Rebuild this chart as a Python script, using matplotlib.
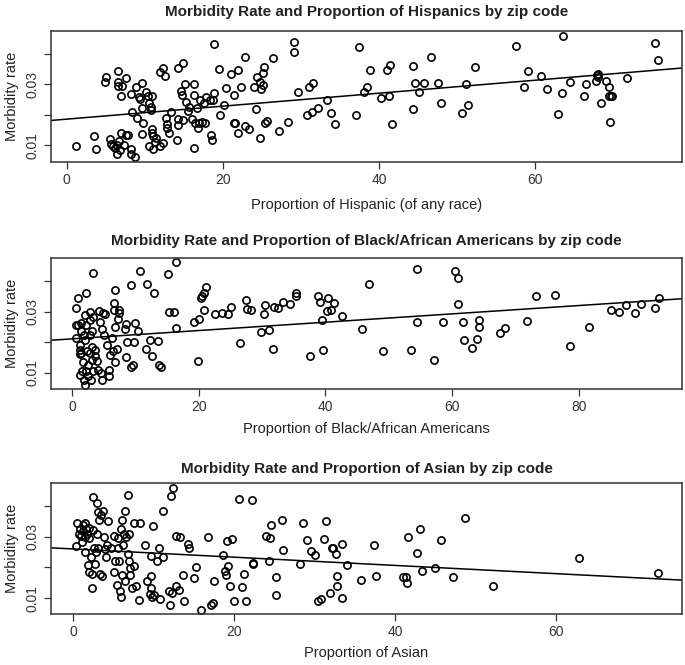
import matplotlib
matplotlib.use("Agg")
import matplotlib.pyplot as plt
import numpy as np

# ---------------- data ----------------
hisp_x = [1.2, 3.5, 3.7, 4.9, 5.1, 5.5, 5.7, 6.0, 6.2, 6.4, 6.5, 6.6, 6.6, 6.6, 6.7, 6.8, 7.0, 7.0, 7.1, 7.4,
          7.6, 7.6, 7.9, 8.2, 8.3, 8.3, 8.4, 8.8, 8.9, 9.0, 9.3, 9.4, 9.6, 9.6, 9.6, 9.8, 10.2, 10.4, 10.5, 10.6,
          10.8, 10.8, 10.9, 10.9, 10.9, 11.0, 11.0, 11.3, 11.5, 12.0, 12.0, 12.4, 12.4, 12.6, 12.7, 12.9, 12.9, 13.1, 13.4, 14.1,
          14.2, 14.2, 14.3, 14.6, 14.8, 14.9, 14.9, 15.2, 15.3, 15.6, 15.7, 16.0, 16.3, 16.3, 16.3, 16.5, 16.7, 16.8, 16.9, 17.1,
          17.3, 17.6, 17.7, 17.9, 18.3, 18.5, 18.6, 18.8, 18.9, 18.9, 19.5, 19.7, 20.1, 20.4, 21.1, 21.4, 21.4, 21.6, 22.0, 22.0,
          22.3, 22.8, 22.8, 23.4, 24.3, 24.0, 24.4, 24.7, 24.9, 24.8, 25.1, 25.2, 25.3, 25.4, 25.7, 26.4, 27.2, 28.3, 29.1, 29.1,
          29.6, 31.1, 31.4, 31.6, 30.8, 32.2, 33.3, 33.9, 34.4, 37.1, 37.5, 38.1, 38.5, 38.9, 40.3, 41.0, 41.3, 41.4, 41.7, 44.3,
          44.3, 44.6, 45.1, 45.7, 46.6, 47.5, 47.9, 50.6, 51.1, 51.4, 52.3, 57.6, 58.6, 59.1, 60.8, 61.5, 62.9, 63.4, 63.6, 64.4,
          66.3, 66.5, 67.8, 67.9, 68.0, 68.0, 68.4, 69.1, 69.4, 69.4, 69.7, 69.9, 69.6, 71.7, 75.3, 75.7]
hisp_y = [0.0097, 0.0132, 0.0089, 0.0309, 0.0325, 0.0121, 0.0105, 0.0097, 0.0091, 0.0102, 0.0073, 0.0295, 0.0309, 0.0343, 0.0113, 0.0086, 0.0142, 0.0263, 0.0295, 0.0100,
          0.0322, 0.0135, 0.0133, 0.0089, 0.0073, 0.0267, 0.0210, 0.0062, 0.0290, 0.0189, 0.0257, 0.0252, 0.0305, 0.0137, 0.0222, 0.0173, 0.0276, 0.0260, 0.0097, 0.0238,
          0.0227, 0.0216, 0.0263, 0.0140, 0.0153, 0.0132, 0.0089, 0.0110, 0.0124, 0.0097, 0.0341, 0.0354, 0.0108, 0.0328, 0.0189, 0.0171, 0.0157, 0.0140, 0.0209, 0.0118,
          0.0167, 0.0352, 0.0186, 0.0279, 0.0265, 0.0368, 0.0182, 0.0301, 0.0241, 0.0213, 0.0227, 0.0187, 0.0091, 0.0301, 0.0265, 0.0175, 0.0222, 0.0157, 0.0173, 0.0247,
          0.0178, 0.0238, 0.0175, 0.0259, 0.0249, 0.0135, 0.0118, 0.0249, 0.0273, 0.0432, 0.0349, 0.0198, 0.0233, 0.0289, 0.0333, 0.0265, 0.0175, 0.0175, 0.0347, 0.0140,
          0.0290, 0.0164, 0.0388, 0.0153, 0.0220, 0.0290, 0.0323, 0.0309, 0.0285, 0.0126, 0.0298, 0.0338, 0.0358, 0.0173, 0.0180, 0.0387, 0.0148, 0.0176, 0.0439, 0.0407,
          0.0274, 0.0292, 0.0208, 0.0305, 0.0198, 0.0222, 0.0249, 0.0205, 0.0171, 0.0198, 0.0421, 0.0274, 0.0292, 0.0345, 0.0254, 0.0345, 0.0263, 0.0363, 0.0170, 0.0220,
          0.0360, 0.0305, 0.0276, 0.0305, 0.0388, 0.0305, 0.0238, 0.0205, 0.0300, 0.0232, 0.0355, 0.0425, 0.0292, 0.0343, 0.0327, 0.0284, 0.0203, 0.0271, 0.0459, 0.0309,
          0.0263, 0.0301, 0.0312, 0.0330, 0.0323, 0.0334, 0.0238, 0.0311, 0.0290, 0.0263, 0.0263, 0.0263, 0.0176, 0.0320, 0.0434, 0.0379]

black_x = [0.6, 0.6, 0.7, 1.0, 1.0, 1.2, 1.2, 1.2, 1.3, 1.4, 1.5, 1.5, 1.6, 1.7, 1.9, 1.9, 2.0, 2.1, 2.1, 2.2,
           2.3, 2.3, 2.4, 2.5, 2.6, 2.8, 2.8, 2.9, 2.9, 3.0, 3.1, 3.2, 3.2, 3.3, 3.4, 3.4, 3.6, 3.7, 3.9, 4.1,
           4.3, 4.5, 4.6, 4.7, 4.8, 4.9, 5.0, 5.3, 5.5, 5.8, 5.9, 6.0, 6.3, 6.5, 6.7, 6.7, 6.8, 6.8, 6.8, 7.1,
           7.2, 7.4, 7.5, 8.4, 8.5, 8.6, 8.7, 9.4, 9.4, 9.6, 9.8, 9.9, 10.5, 10.7, 11.7, 11.9, 12.3, 12.7, 12.9, 13.6,
           13.8, 14.0, 15.1, 15.3, 16.1, 16.4, 16.5, 19.3, 19.9, 20.1, 20.4, 20.6, 20.8, 20.9, 21.1, 22.6, 23.7, 24.6, 25.1, 26.6,
           27.5, 27.7, 28.3, 29.9, 30.3, 30.4, 31.1, 31.8, 31.9, 32.5, 33.3, 34.4, 35.4, 35.4, 37.6, 38.9, 39.1, 39.4, 39.6, 40.3,
           40.5, 40.9, 41.3, 42.6, 45.8, 46.9, 49.1, 53.5, 54.4, 54.4, 57.1, 58.6, 60.4, 60.9, 61.0, 61.7, 61.9, 63.1, 63.9, 64.3,
           64.3, 67.6, 68.3, 71.9, 73.2, 76.2, 78.6, 81.6, 85.1, 86.4, 87.5, 88.9, 89.9, 92.0, 92.6]
black_y = [0.0257, 0.0214, 0.0313, 0.0343, 0.0257, 0.0192, 0.0176, 0.0162, 0.0092, 0.0235, 0.0262, 0.0165, 0.0105, 0.0136, 0.0224, 0.0078, 0.0289, 0.0208, 0.0062, 0.0359,
           0.0105, 0.0257, 0.0172, 0.0127, 0.0089, 0.0273, 0.0298, 0.0224, 0.0165, 0.0078, 0.0141, 0.0186, 0.0235, 0.0424, 0.0105, 0.0281, 0.0176, 0.0154, 0.0138, 0.0111,
           0.0302, 0.0265, 0.0100, 0.0078, 0.0243, 0.0295, 0.0224, 0.0291, 0.0190, 0.0111, 0.0091, 0.0159, 0.0214, 0.0170, 0.0305, 0.0329, 0.0248, 0.0370, 0.0135, 0.0179,
           0.0275, 0.0305, 0.0295, 0.0244, 0.0259, 0.0151, 0.0200, 0.0386, 0.0118, 0.0127, 0.0200, 0.0262, 0.0237, 0.0432, 0.0179, 0.0389, 0.0208, 0.0156, 0.0359, 0.0205,
           0.0127, 0.0119, 0.0421, 0.0300, 0.0300, 0.0460, 0.0246, 0.0265, 0.0138, 0.0276, 0.0345, 0.0349, 0.0305, 0.0359, 0.0381, 0.0291, 0.0295, 0.0292, 0.0316, 0.0199,
           0.0338, 0.0309, 0.0305, 0.0233, 0.0291, 0.0322, 0.0241, 0.0178, 0.0316, 0.0311, 0.0330, 0.0325, 0.0359, 0.0349, 0.0156, 0.0349, 0.0332, 0.0273, 0.0176, 0.0302,
           0.0345, 0.0305, 0.0327, 0.0286, 0.0244, 0.0389, 0.0173, 0.0176, 0.0438, 0.0265, 0.0143, 0.0265, 0.0432, 0.0408, 0.0325, 0.0265, 0.0208, 0.0181, 0.0211, 0.0273,
           0.0251, 0.0230, 0.0246, 0.0268, 0.0349, 0.0354, 0.0189, 0.0251, 0.0305, 0.0297, 0.0322, 0.0295, 0.0325, 0.0311, 0.0345]

asian_x = [0.3, 0.4, 0.7, 0.8, 1.0, 1.1, 1.2, 1.2, 1.4, 1.5, 1.5, 1.6, 1.7, 1.8, 1.9, 1.9, 2.0, 2.2, 2.3, 2.3,
           2.4, 2.4, 2.6, 2.7, 2.8, 2.9, 3.0, 3.1, 3.1, 3.2, 3.3, 3.5, 3.6, 3.7, 3.8, 3.9, 4.1, 4.2, 4.3, 4.7,
           5.0, 5.0, 5.2, 5.4, 5.5, 5.6, 5.7, 5.8, 5.9, 5.9, 6.0, 6.1, 6.2, 6.3, 6.4, 6.4, 6.6, 6.8, 6.8, 6.9,
           6.9, 7.0, 7.1, 7.3, 7.5, 7.6, 7.8, 8.1, 8.3, 8.9, 9.1, 9.5, 9.6, 9.6, 9.7, 9.8, 9.9, 10.0, 10.4, 10.6,
           10.8, 11.2, 11.2, 11.9, 12.0, 12.1, 12.3, 12.4, 12.7, 12.8, 13.1, 13.2, 13.6, 13.7, 14.3, 14.4, 15.0, 15.2, 15.8, 16.7,
           17.1, 17.4, 17.5, 18.6, 18.8, 19.0, 19.1, 19.2, 19.4, 19.7, 20.0, 20.6, 20.9, 21.2, 21.4, 22.2, 22.3, 22.3, 23.9, 24.3,
           24.4, 24.5, 25.2, 25.2, 25.9, 26.1, 28.1, 28.5, 29.0, 29.5, 30.0, 30.4, 30.8, 31.1, 31.4, 31.9, 32.1, 32.3, 32.6, 32.7,
           32.7, 33.4, 33.4, 34.0, 35.7, 37.3, 37.6, 40.9, 41.3, 41.5, 41.6, 42.7, 43.0, 43.3, 44.9, 45.7, 47.1, 48.6, 52.1, 62.8,
           72.6]
asian_y = [0.0271, 0.0346, 0.0311, 0.0327, 0.0303, 0.0284, 0.0340, 0.0318, 0.0300, 0.0346, 0.0251, 0.0327, 0.0309, 0.0208, 0.0295, 0.0186, 0.0330, 0.0235, 0.0178, 0.0132,
           0.0322, 0.0430, 0.0264, 0.0211, 0.0251, 0.0311, 0.0410, 0.0381, 0.0265, 0.0354, 0.0178, 0.0370, 0.0172, 0.0386, 0.0300, 0.0262, 0.0233, 0.0275, 0.0352, 0.0265,
           0.0303, 0.0186, 0.0221, 0.0143, 0.0265, 0.0295, 0.0221, 0.0122, 0.0105, 0.0327, 0.0354, 0.0176, 0.0273, 0.0308, 0.0386, 0.0156, 0.0300, 0.0438, 0.0243, 0.0308,
           0.0221, 0.0199, 0.0176, 0.0132, 0.0346, 0.0206, 0.0138, 0.0095, 0.0346, 0.0273, 0.0156, 0.0113, 0.0238, 0.0173, 0.0132, 0.0105, 0.0335, 0.0111, 0.0222, 0.0265,
           0.0098, 0.0235, 0.0386, 0.0124, 0.0078, 0.0432, 0.0118, 0.0459, 0.0141, 0.0303, 0.0127, 0.0300, 0.0176, 0.0091, 0.0276, 0.0265, 0.0165, 0.0201, 0.0062, 0.0300,
           0.0078, 0.0084, 0.0157, 0.0241, 0.0190, 0.0174, 0.0286, 0.0205, 0.0141, 0.0292, 0.0091, 0.0424, 0.0136, 0.0178, 0.0091, 0.0419, 0.0214, 0.0210, 0.0303, 0.0221,
           0.0295, 0.0340, 0.0109, 0.0168, 0.0356, 0.0257, 0.0211, 0.0346, 0.0291, 0.0254, 0.0241, 0.0089, 0.0098, 0.0292, 0.0351, 0.0118, 0.0264, 0.0264, 0.0243, 0.0173,
           0.0141, 0.0100, 0.0278, 0.0208, 0.0159, 0.0273, 0.0173, 0.0168, 0.0170, 0.0149, 0.0298, 0.0248, 0.0327, 0.0189, 0.0199, 0.0291, 0.0170, 0.0362, 0.0138, 0.0232,
           0.0181]

# fitted-line coefficients (intercept, slope)
hisp_fit = (0.0186, 0.000212)
black_fit = (0.0211, 0.0001355)
asian_fit = (0.02605, -0.0001346)

titles = ["Morbidity Rate and Proportion of Hispanics by zip code",
          "Morbidity Rate and Proportion of Black/African Americans by zip code",
          "Morbidity Rate and Proportion of Asian by zip code"]
xlabels = ["Proportion of Hispanic (of any race)",
           "Proportion of Black/African Americans",
           "Proportion of Asian"]
ylabel = "Morbidity rate"
y_ticks = [0.01, 0.02, 0.03, 0.04]
y_ticklabels = ["0.01", "", "0.03", ""]
x_ticks = [[0, 20, 40, 60], [0, 20, 40, 60, 80], [0, 20, 40, 60]]

# ---------------- layout ----------------
W, H = 685, 665
fig = plt.figure(figsize=(W / 100, H / 100), dpi=100)
fig.patch.set_facecolor("white")

# (left, right, top, bottom) in pixels, axis limits
boxes = [(51, 682, 31, 162), (51, 682, 258, 389), (51, 682, 483, 614)]
xlims = [(-2.0, 78.8), (-3.3, 96.3), (-2.77, 75.6)]
ylims = [(0.0046, 0.0474), (0.0048, 0.0474), (0.0048, 0.0476)]
title_pads = [11, 9, 7]
xlabel_pads = [8, 6, 5]

datasets = [(hisp_x, hisp_y, hisp_fit), (black_x, black_y, black_fit), (asian_x, asian_y, asian_fit)]

txt = "#222222"
label_font = ["Liberation Sans", "DejaVu Sans"]
title_font = ["Liberation Sans", "DejaVu Sans"]

for i, ((xs, ys, fit), (l, r, t, b)) in enumerate(zip(datasets, boxes)):
    ax = fig.add_axes([l / W, 1 - b / H, (r - l) / W, (b - t) / H])
    ax.plot(xs, ys, linestyle="none", marker="o", markersize=5.2,
            markerfacecolor="none", markeredgecolor="black", markeredgewidth=1.2)
    xl = np.array(xlims[i])
    ax.plot(xl, fit[0] + fit[1] * xl, color="black", linewidth=1.1)
    ax.set_xlim(*xlims[i])
    ax.set_ylim(*ylims[i])
    ax.set_xticks(x_ticks[i])
    ax.set_xticklabels([str(v) for v in x_ticks[i]], fontsize=10, color=txt, family=label_font)
    ax.set_yticks(y_ticks)
    ax.set_yticklabels(y_ticklabels, fontsize=10, color=txt, family=label_font,
                       rotation=90, va="center")
    ax.tick_params(direction="out", length=5, width=0.9, colors="#333333", pad=3)
    for s in ax.spines.values():
        s.set_linewidth(1.1)
        s.set_color("#333333")
    ax.set_xlabel(xlabels[i], fontsize=10.5, color=txt, family=label_font, labelpad=xlabel_pads[i])
    ax.set_ylabel(ylabel, fontsize=10.5, color=txt, family=label_font, labelpad=5)
    ax.set_title(titles[i], fontsize=11, fontweight="bold", color=txt,
                 family=title_font, pad=title_pads[i])

fig.savefig("out.png", dpi=100, facecolor="white")
